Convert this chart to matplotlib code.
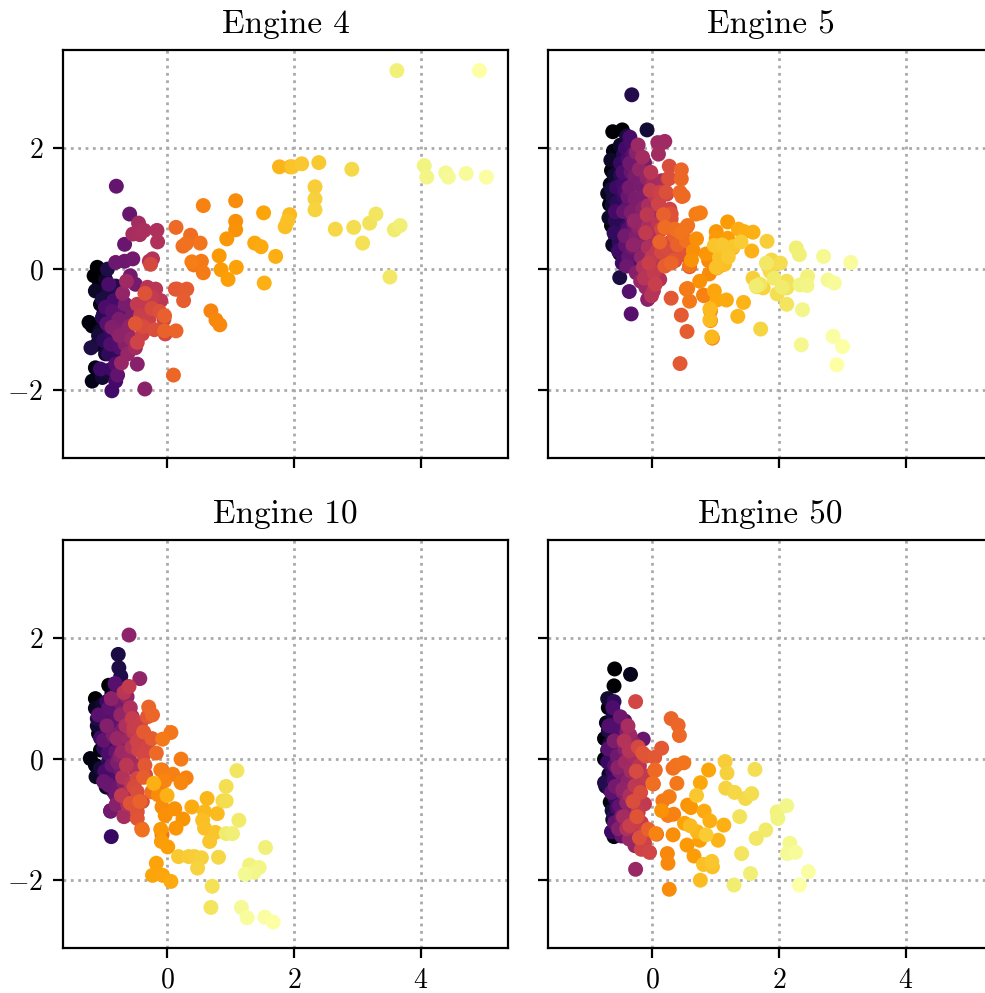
import numpy as np
import matplotlib
matplotlib.use("Agg")
import matplotlib.pyplot as plt

plt.rcParams['font.family'] = 'serif'
plt.rcParams['font.serif'] = ['cmr10']
plt.rcParams['mathtext.fontset'] = 'cm'
plt.rcParams['axes.formatter.use_mathtext'] = True
plt.rcParams['axes.unicode_minus'] = True

titles = ["Engine 4", "Engine 5", "Engine 10", "Engine 50"]
x_ticks = [0, 2, 4]
y_ticks = [-2, 0, 2]

# points in time order (first = dark, last = pale yellow)
engine4 = [
    (-1.10, 0.03), (-1.15, -0.11), (-1.08, -0.30), (-1.23, -0.88), (-1.18, -0.94),
    (-1.05, -0.58), (-1.13, -1.63), (-1.18, -1.85), (-1.10, -1.24), (-1.00, -0.74),
    (-0.97, -0.17), (-1.13, -0.36), (-1.05, -1.02), (-0.97, -1.40), (-1.02, -1.79),
    (-0.94, -1.68), (-1.08, -1.10), (-0.92, -0.33), (-1.02, -0.50), (-1.20, -1.30),
    (-0.94, 0.00), (-0.81, -0.28), (-0.76, -0.47), (-1.02, -0.80), (-1.00, -1.18),
    (-0.92, -1.40), (-0.76, -1.46), (-0.71, -1.13), (-0.89, -1.02), (-0.79, -0.83),
    (-0.87, -1.65), (-1.05, -1.65), (-0.87, -2.01), (-0.81, -1.85), (-0.84, -0.52),
    (-0.92, -0.25), (-0.97, -0.63), (-0.89, -1.24), (-0.81, -1.57), (-0.74, -1.30),
    (-0.95, -0.90), (-0.86, -0.70), (-0.80, -1.00), (-0.70, -0.75), (-0.78, -1.75),
    (-0.80, 1.37), (-0.59, 0.91), (-0.67, 0.41), (-0.81, 0.11), (-0.67, 0.13),
    (-0.54, 0.17), (-0.58, -0.11), (-0.50, -0.25), (-0.66, -0.58), (-0.76, -0.83),
    (-0.55, -0.77), (-0.87, -0.96), (-0.79, -1.02), (-0.66, -1.24), (-0.47, -1.57),
    (-0.35, -1.98), (-0.75, -1.10), (-0.60, -0.95), (-0.70, -0.40), (-0.62, -1.40),
    (-0.72, -1.55), (-0.56, -1.15), (-0.45, -0.60), (-0.64, -0.20), (-0.50, -1.30),
    (-0.45, 0.76), (-0.54, 0.58), (-0.43, 0.57), (-0.36, 0.64), (-0.16, 0.64),
    (-0.15, 0.45), (-0.28, 0.13), (-0.23, 0.17), (-0.31, -0.30), (-0.18, -0.33),
    (-0.10, -0.52), (-0.37, -0.63), (-0.47, -0.58), (-0.24, -0.47), (-0.31, -0.83),
    (-0.42, -0.77), (-0.29, -0.83), (-0.39, -1.07), (-0.47, -1.21), (-0.05, -0.83),
    (-0.03, -1.07), (-0.26, 0.08), (-0.24, -0.65), (-0.38, -0.95), (-0.20, -1.00),
    (-0.12, -0.70), (-0.35, -0.40), (-0.50, -0.90),
    (0.13, -0.33), (0.16, -0.33), (0.31, -0.33), (0.26, -0.52), (-0.04, -0.77),
    (-0.04, -1.02), (0.14, -1.02), (0.10, -1.75), (0.14, 0.69), (0.37, 0.56),
    (0.25, 0.38), (0.30, 0.42), (0.52, 0.43), (0.42, 0.07), (0.54, 0.13),
    (0.57, -0.06), (0.39, 0.12), (0.57, 1.05), (0.69, -0.69), (0.77, -0.84),
    (0.83, -0.92),
    (1.08, 1.13), (1.08, 0.79), (1.08, 0.65), (0.94, 0.50), (0.82, 0.22),
    (0.85, -0.01), (0.96, -0.17), (1.09, 0.03), (1.52, 0.93), (1.38, 0.43),
    (1.48, 0.37), (1.71, 0.21), (1.53, -0.23),
    (1.77, 1.69), (1.94, 1.69), (1.93, 0.90), (1.86, 0.70), (1.90, 0.80),
    (1.97, 1.69), (2.12, 1.74), (2.39, 1.76), (2.33, 1.36), (2.33, 1.16),
    (2.33, 0.98), (2.65, 0.66), (2.91, 1.65), (2.94, 0.69), (3.08, 0.43),
    (3.19, 0.76), (3.29, 0.91), (3.51, -0.13), (3.58, 0.65), (3.67, 0.72),
    (3.62, 3.28), (4.05, 1.71), (4.09, 1.52), (4.39, 1.59), (4.43, 1.52),
    (4.71, 1.58), (5.03, 1.52), (4.92, 3.28),
]

engine5 = [
    (-0.62, 2.27), (-0.47, 2.30), (-0.59, 1.76), (-0.64, 1.63), (-0.56, 1.49),
    (-0.67, 1.07), (-0.64, 0.72), (-0.51, 0.26), (-0.48, 1.29), (-0.61, 1.95),
    (-0.55, 1.85), (-0.66, 1.40), (-0.60, 0.90), (-0.58, 0.55), (-0.70, 1.25),
    (-0.52, 1.70), (-0.62, 0.40), (-0.57, 1.15), (-0.65, 1.80), (-0.50, 2.05),
    (-0.68, 0.85), (-0.53, 0.95), (-0.60, 1.55), (-0.55, 0.35), (-0.63, 1.05),
    (-0.08, 2.30), (-0.40, 2.20), (-0.64, 1.32), (-0.61, 1.18), (-0.51, -0.14),
    (-0.54, 0.99), (-0.46, 0.83), (-0.43, 0.50), (-0.40, 0.33), (-0.32, 2.88),
    (-0.50, 1.55), (-0.45, 1.90), (-0.58, 0.80), (-0.48, 0.65), (-0.55, 1.10),
    (-0.42, 1.45), (-0.52, 0.45), (-0.38, 1.00), (-0.60, 0.60), (-0.45, 0.20),
    (-0.50, 1.75), (-0.44, 1.20), (-0.56, 1.35), (-0.40, 0.70), (-0.47, 0.10),
    (-0.35, 1.65), (-0.53, 0.30), (-0.42, 2.00), (-0.58, 0.95), (-0.46, 1.40),
    (-0.35, 2.18), (-0.33, 2.09), (-0.38, 1.82), (-0.43, 1.29), (-0.46, 1.60),
    (-0.35, 1.13), (-0.38, 0.66), (-0.35, 0.47), (-0.27, 0.14), (-0.36, -0.37),
    (-0.33, -0.74), (-0.25, 0.28), (-0.30, 1.90), (-0.40, 1.00), (-0.32, 0.85),
    (-0.42, 0.40), (-0.28, 1.45), (-0.37, 0.20), (-0.30, 0.60), (-0.45, 0.95),
    (-0.33, 1.60), (-0.38, 1.20), (-0.26, 1.05), (-0.40, 0.05), (-0.31, 0.35),
    (-0.35, 1.75), (-0.29, 0.75), (-0.43, 0.55), (-0.22, 0.95), (-0.36, 1.35),
    (-0.12, 1.76), (-0.27, 1.54), (-0.19, 1.38), (-0.27, 1.16), (-0.12, 1.21),
    (-0.33, 0.94), (-0.19, 0.83), (-0.25, 0.55), (-0.20, 0.50), (-0.25, -0.06),
    (-0.04, -0.06), (-0.07, -0.50), (-0.25, 1.93), (-0.15, 1.00), (-0.22, 0.70),
    (-0.10, 0.40), (-0.30, 0.40), (-0.17, 0.20), (-0.08, 1.50), (-0.20, 1.65),
    (-0.28, 0.80), (-0.13, 0.65), (-0.18, -0.20), (-0.10, -0.30), (-0.22, 2.05),
    (0.17, 2.09), (0.09, 2.09), (0.20, 2.11), (0.10, 1.90), (-0.15, 1.85),
    (0.02, 1.43), (0.15, 1.46), (-0.06, 1.05), (0.04, 0.94), (-0.06, 0.72),
    (0.07, 0.55), (-0.06, 0.36), (0.07, 0.08), (-0.14, 0.03), (0.12, -0.17),
    (0.02, -0.36), (-0.01, -0.44), (-0.12, -0.15), (0.05, 1.20), (-0.02, 1.60),
    (0.10, 0.75), (-0.08, 0.90), (0.00, 0.20), (0.08, 0.30), (-0.10, 0.60),
    (0.03, -0.05), (0.10, 1.10), (-0.03, 1.30), (0.05, -0.25), (-0.05, 0.10),
    (0.25, 1.49), (0.12, 1.27), (0.23, 1.24), (0.10, 1.07), (0.28, 0.99),
    (0.25, 0.74), (0.15, 0.66), (0.28, 0.44), (0.15, 0.28), (0.25, 0.33),
    (0.36, 0.14), (0.41, 0.22), (0.27, 1.70), (0.27, 1.50), (0.22, 1.27),
    (0.30, 0.91), (0.30, 0.83), (0.48, 0.24), (0.33, 0.14), (0.59, 0.04),
    (0.30, -0.48), (0.44, -1.56), (0.46, -0.76), (0.55, -1.03), (0.20, 0.05),
    (0.35, 0.55), (0.18, 0.90), (0.40, 0.40), (0.12, 0.45), (0.30, 0.10),
    (0.46, 1.64), (0.46, 1.49), (0.44, 1.27), (0.49, 1.21), (0.47, 1.20),
    (0.20, 0.69), (0.36, 0.66), (0.54, 0.69), (0.54, 0.47), (0.56, 0.72),
    (0.46, 0.60), (0.59, 0.06), (0.54, -0.33), (0.59, -0.53), (0.56, -0.32),
    (0.69, 0.91), (0.76, 0.93), (0.81, -0.43), (0.82, -0.44), (0.92, -0.69),
    (0.92, -0.85), (0.95, -1.14), (0.89, 0.14), (0.90, -0.08), (0.98, 0.35),
    (0.65, 0.30), (0.70, 0.50), (0.75, -0.20), (0.62, 0.15), (0.85, 0.25),
    (1.01, 0.62), (1.01, 0.51), (1.19, 0.78), (1.19, 0.51), (1.07, 0.18),
    (1.10, 0.07), (1.02, 0.02), (1.27, 0.35), (0.98, -0.36), (1.02, -0.51),
    (1.17, -0.51), (1.36, 0.66), (1.45, 0.62), (1.59, 0.61), (1.57, 0.30),
    (1.44, -0.55), (1.35, -0.78), (0.94, -1.12), (0.91, -0.66), (0.91, -0.84),
    (1.14, 0.08), (1.06, 0.19), (1.01, 0.03), (0.98, 0.39), (1.27, 0.37),
    (1.10, 0.40), (1.20, 0.20), (1.40, 0.45),
    (1.81, 0.46), (1.59, -0.15), (1.65, -0.29), (1.75, -0.31), (1.71, -0.99),
    (1.88, 0.15), (1.83, 0.06), (1.86, -0.04), (2.02, 0.10), (1.97, -0.41),
    (2.12, -0.20), (2.12, -0.31), (2.12, -0.58), (1.70, -0.25), (1.80, 0.10),
    (1.92, -0.15), (2.05, -0.30), (1.64, -0.28),
    (2.27, 0.35), (2.32, 0.24), (2.45, -0.12), (2.33, -0.26), (2.44, -0.27),
    (2.37, -0.67), (2.35, -1.25), (2.70, 0.21), (2.77, -0.18), (2.87, -0.23),
    (3.13, 0.11), (2.85, -1.11), (3.00, -1.28), (2.91, -1.58),
]

engine10 = [
    (-1.13, 1.00), (-0.92, 1.22), (-0.68, 1.22), (-1.08, 0.42), (-1.05, 0.15),
    (-1.21, 0.01), (-1.13, -0.10), (-1.08, -0.26), (-0.94, -0.46), (-0.87, 1.08),
    (-1.13, 0.84), (-1.00, 0.67), (-1.12, -0.29), (-0.96, -0.46), (-1.02, 0.90),
    (-0.98, 0.30), (-1.10, 0.55), (-0.90, 0.05), (-1.05, -0.15), (-0.95, 0.75),
    (-0.77, 1.73), (-0.76, 1.51), (-0.73, 1.37), (-1.10, 0.67), (-0.94, 0.51),
    (-0.89, 0.34), (-1.00, 0.18), (-0.92, -0.04), (-0.87, -0.21), (-0.84, -0.54),
    (-0.79, -0.73), (-0.89, -0.86), (-0.88, -1.28), (-0.95, 0.95), (-0.85, 0.80),
    (-1.05, 0.35), (-0.80, 0.20), (-0.90, -0.35), (-0.82, 1.05), (-0.98, -0.20),
    (-0.86, 0.60), (-0.93, 0.10), (-0.78, -0.30), (-0.83, 0.45), (-0.96, 0.70),
    (-0.82, 1.25), (-1.08, 0.73), (-0.92, 0.84), (-0.81, 0.62), (-1.00, 0.31),
    (-0.81, 0.12), (-0.87, -0.10), (-1.00, -0.37), (-0.92, -0.43), (-0.76, -0.46),
    (-0.81, -0.59), (-0.73, -0.18), (-0.66, 0.29), (-0.89, -0.85), (-0.75, 0.95),
    (-0.70, 0.50), (-0.85, 0.40), (-0.78, -0.05), (-0.72, 0.75), (-0.95, 0.55),
    (-0.68, -0.40), (-0.80, -0.75), (-0.74, 0.05), (-0.88, 1.00),
    (-0.60, 2.05), (-0.43, 1.33), (-0.63, 1.03), (-0.73, 0.73), (-0.55, 0.70),
    (-0.79, 0.34), (-0.60, 0.34), (-0.71, 0.12), (-0.60, 0.01), (-0.52, -0.10),
    (-0.66, -0.57), (-0.68, -0.95), (-0.52, -0.92), (-0.50, -0.18), (-0.65, 0.55),
    (-0.58, 0.85), (-0.70, -0.30), (-0.62, -0.75), (-0.55, 0.20), (-0.68, 1.10),
    (-0.57, -0.40), (-0.64, -0.10), (-0.53, 0.45), (-0.72, -0.60), (-0.60, 1.20),
    (-0.55, 0.67), (-0.52, 0.53), (-0.42, 0.59), (-0.39, 0.42), (-0.47, 0.29),
    (-0.45, 0.15), (-0.31, 0.20), (-0.37, 0.07), (-0.47, -0.32), (-0.34, -0.26),
    (-0.52, -0.46), (-0.47, -0.54), (-0.39, -0.70), (-0.47, -0.87), (-0.58, -0.73),
    (-0.47, -0.98), (-0.31, 0.70), (-0.35, -0.10), (-0.37, 0.45), (-0.24, 0.34),
    (-0.37, -0.30), (-0.40, -1.15), (-0.43, -0.70), (-0.29, 0.86), (-0.23, 0.73),
    (-0.17, 0.10), (-0.08, -0.18), (-0.10, -0.54), (-0.24, -0.54), (-0.39, -1.17),
    (-0.08, -1.25), (0.06, 0.44), (-0.07, 0.33), (0.22, 0.00), (-0.10, -0.18),
    (0.09, -0.25), (0.30, -0.31), (-0.04, -0.36), (0.22, -0.39), (-0.14, -0.59),
    (-0.08, -0.79), (-0.03, -0.93), (0.12, -0.82), (0.25, -0.99), (0.14, -1.14),
    (-0.10, -1.16), (-0.09, -1.36), (0.01, -1.45), (-0.17, -1.72), (-0.23, -1.92),
    (-0.07, -1.92), (0.06, -2.02), (0.39, -0.79), (-0.21, -0.40), (0.00, -0.60),
    (0.63, -0.65), (0.59, -0.87), (0.79, -0.90), (0.56, -1.01), (0.59, -1.14),
    (0.76, -1.21), (0.67, -1.36), (0.18, -1.61), (0.34, -1.61), (0.43, -1.61),
    (0.54, -1.63), (0.48, -1.80), (0.81, -1.62), (0.88, -0.69), (0.93, -0.69),
    (0.93, -0.45), (0.71, -2.10), (0.69, -2.45),
    (1.10, -0.19), (1.13, -1.01), (0.93, -1.23), (1.03, -1.23), (1.55, -1.46),
    (1.30, -1.75), (1.45, -1.79), (1.37, -1.87), (1.23, -1.90), (1.17, -2.45),
    (1.26, -2.62), (1.54, -2.61), (1.67, -2.69),
]

engine50 = [
    (-0.59, 1.49), (-0.60, 1.21), (-0.69, 0.85), (-0.75, 0.34), (-0.75, 0.00),
    (-0.66, -0.71), (-0.60, -1.28), (-0.61, 0.77), (-0.34, 1.40), (-0.72, 0.60),
    (-0.70, 0.15), (-0.68, -0.25), (-0.73, -0.45), (-0.65, 0.45), (-0.62, -1.00),
    (-0.70, 1.00), (-0.67, 0.25), (-0.63, -0.85),
    (-0.61, 0.74), (-0.46, 0.63), (-0.69, 0.47), (-0.56, 0.33), (-0.75, -0.39),
    (-0.67, -0.50), (-0.59, -0.94), (-0.56, -1.10), (-0.60, 0.95), (-0.55, 0.60),
    (-0.65, 0.10), (-0.62, -0.20), (-0.58, -0.65), (-0.70, -0.05), (-0.52, 0.40),
    (-0.64, -1.20), (-0.57, 0.20), (-0.60, -0.35), (-0.66, 0.55), (-0.55, -0.80),
    (-0.62, 0.85), (-0.50, 0.50),
    (-0.68, 0.55), (-0.54, 0.50), (-0.43, 0.63), (-0.69, 0.17), (-0.59, -0.11),
    (-0.64, -0.55), (-0.51, -0.77), (-0.59, -1.05), (-0.48, -1.27), (-0.20, -0.63),
    (-0.14, 0.33), (-0.40, 0.22), (-0.50, 0.70), (-0.55, 0.05), (-0.45, -0.30),
    (-0.58, -0.45), (-0.48, -0.95), (-0.52, -0.20), (-0.40, 0.45), (-0.60, 0.30),
    (-0.46, -0.55), (-0.53, -1.15),
    (-0.30, 0.28), (-0.43, 0.17), (-0.54, -0.14), (-0.38, -0.36), (-0.46, -0.50),
    (-0.40, -0.72), (-0.31, -0.87), (-0.27, -1.43), (-0.36, -1.32), (-0.26, -1.82),
    (-0.35, 0.40), (-0.42, -0.05), (-0.33, -0.20), (-0.45, -0.95), (-0.30, 0.05),
    (-0.38, 0.55), (-0.35, -0.60), (-0.28, -1.10), (-0.40, -1.15), (-0.32, 0.15),
    (-0.44, 0.30),
    (-0.36, 0.14), (-0.20, -0.11), (-0.14, -0.36), (-0.27, -0.44), (-0.09, -0.28),
    (-0.12, -0.74), (-0.22, -0.88), (-0.17, -1.05), (-0.35, -1.10), (-0.14, -1.24),
    (-0.12, -1.38), (-0.17, -1.49), (-0.04, -1.54), (-0.26, 0.95), (-0.22, 0.20),
    (-0.25, -0.20), (-0.18, -0.55), (-0.30, -0.70), (-0.10, 0.05), (-0.20, -1.30),
    (-0.24, -0.95), (-0.15, 0.10),
    (0.04, 0.03), (0.15, 0.18), (0.04, -0.19), (0.02, -0.41), (0.07, -1.24),
    (-0.06, -1.16), (0.30, 0.67), (0.41, 0.56), (0.43, 0.39), (0.05, -0.18),
    (0.01, -0.40), (0.33, -0.15), (0.38, -0.10), (0.50, -0.06), (0.39, -0.40),
    (0.17, -0.69), (0.27, -0.62), (0.25, -0.93), (0.34, -0.91), (0.06, -1.23),
    (0.24, -1.56), (0.25, -1.72), (0.27, -2.15), (0.33, -1.25), (0.15, -0.85),
    (0.56, -0.76), (0.61, -0.80), (0.55, -1.42), (0.66, -1.60), (0.75, -1.34),
    (0.51, -1.06), (0.89, -0.18), (0.76, -0.39), (0.82, -0.86), (0.91, -1.02),
    (1.13, -1.09), (1.04, -1.34), (0.71, -1.20), (0.60, -1.10), (0.76, -2.00),
    (0.81, -1.74), (0.95, -1.78), (0.94, -1.69), (0.70, -0.60), (0.85, -1.25),
    (1.15, -0.04), (1.18, -0.23), (1.16, -0.48), (1.30, -0.55), (1.47, -0.65),
    (1.57, -0.57), (1.62, -0.17), (1.38, -0.95), (1.41, -1.56), (1.64, -1.31),
    (1.79, -1.17), (1.29, -2.08), (1.55, -1.89),
    (1.97, -0.87), (1.98, -0.98), (2.12, -0.77), (2.17, -1.39), (2.13, -1.56),
    (2.26, -1.54), (2.46, -1.86), (2.32, -2.08),
]

engines = [engine4, engine5, engine10, engine50]

W, H = 985, 993
fig = plt.figure(figsize=(W / 200, H / 200), dpi=200)

# axes boxes in pixels: left, top
boxes = [(63, 50), (548, 50), (63, 540), (548, 540)]
aw, ah = 445, 408

axes = []
for i, (l, t) in enumerate(boxes):
    rect = [l / W, 1 - (t + ah) / H, aw / W, ah / H]
    if i == 0:
        ax = fig.add_axes(rect)
    else:
        ax = fig.add_axes(rect, sharex=axes[0], sharey=axes[0])
    axes.append(ax)

for i, ax in enumerate(axes):
    pts = np.array(engines[i])
    t = np.arange(len(pts))
    ax.scatter(pts[:, 0], pts[:, 1], c=t, cmap='inferno', s=29, linewidths=0, zorder=3)
    ax.set_title(titles[i], fontsize=12)
    ax.grid(True, linestyle=':', color='#aaaaaa', linewidth=1.0, zorder=0)
    ax.set_axisbelow(True)
    ax.set_xticks(x_ticks)
    ax.set_yticks(y_ticks)
    ax.tick_params(labelsize=10)
    if i in (0, 1):
        ax.tick_params(labelbottom=False)
    if i in (1, 3):
        ax.tick_params(labelleft=False)

axes[0].set_xlim(-1.64, 5.37)
axes[0].set_ylim(-3.12, 3.62)

fig.savefig("out.png", dpi=200)
